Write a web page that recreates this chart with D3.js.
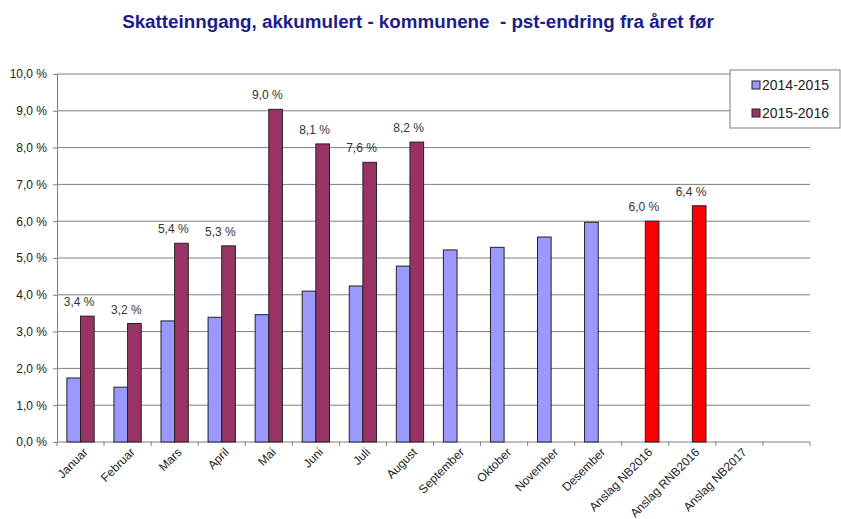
<!DOCTYPE html>
<html>
<head>
<meta charset="utf-8">
<script src="https://cdnjs.cloudflare.com/ajax/libs/d3/7.8.5/d3.min.js"></script>
<style>
	body { margin: 0; background: #fff; }
	svg { font-family: "Liberation Sans", Arial, sans-serif; }
</style>
</head>
<body>
<div id="chart"></div>
<script>
const categories = ["Januar", "Februar", "Mars", "April", "Mai", "Juni", "Juli", "August",
	"September", "Oktober", "November", "Desember", "Anslag NB2016", "Anslag RNB2016", "Anslag NB2017", ""];
const series1 = [1.74, 1.49, 3.29, 3.39, 3.46, 4.10, 4.24, 4.78, 5.22, 5.29, 5.57, 5.97, null, null, null, null];
const series2 = [3.42, 3.22, 5.40, 5.33, 9.04, 8.10, 7.60, 8.15, null, null, null, null, 6.0, 6.42, null, null];
const labels2 = ["3,4 %", "3,2 %", "5,4 %", "5,3 %", "9,0 %", "8,1 %", "7,6 %", "8,2 %",
	null, null, null, null, "6,0 %", "6,4 %", null, null];
const seriesNames = ["2014-2015", "2015-2016"];
const yTicks = [0, 1, 2, 3, 4, 5, 6, 7, 8, 9, 10];

const width = 841, height = 519;
const margin = {top: 74, right: 31, bottom: 77, left: 57};

const svg = d3.select("#chart").append("svg")
	.attr("width", width)
	.attr("height", height);

const x = d3.scaleBand()
	.domain(d3.range(categories.length))
	.range([margin.left, width - margin.right]);

const y = d3.scaleLinear()
	.domain([0, 10])
	.range([height - margin.bottom, margin.top]);

const colors = ["#9999ff", "#993366"];

// gridlines
svg.append("g")
	.selectAll("line")
	.data(yTicks.slice(1))
	.enter().append("line")
	.attr("x1", margin.left)
	.attr("x2", width - margin.right)
	.attr("y1", d => y(d))
	.attr("y2", d => y(d))
	.attr("stroke", "#7f7f7f")
	.attr("stroke-width", 1);

// y axis
const yAxis = d3.axisLeft(y)
	.tickValues(yTicks)
	.tickSize(4)
	.tickFormat(d => d3.format(".1f")(d).replace(".", ",") + " %");

svg.append("g")
	.attr("transform", `translate(${margin.left},0)`)
	.call(yAxis)
	.call(g => g.select(".domain").attr("stroke", "#7f7f7f"))
	.call(g => g.selectAll(".tick line").attr("stroke", "#7f7f7f"))
	.call(g => g.selectAll(".tick text")
		.attr("x", -10)
		.attr("fill", "#222")
		.style("font-size", "12px"));

// x axis with ticks on band boundaries
const xAxisY = y(0);
svg.append("line")
	.attr("x1", margin.left)
	.attr("x2", width - margin.right)
	.attr("y1", xAxisY)
	.attr("y2", xAxisY)
	.attr("stroke", "#7f7f7f");

svg.append("g")
	.selectAll("line")
	.data(d3.range(categories.length + 1))
	.enter().append("line")
	.attr("x1", i => margin.left + i * x.bandwidth())
	.attr("x2", i => margin.left + i * x.bandwidth())
	.attr("y1", xAxisY)
	.attr("y2", xAxisY + 4)
	.attr("stroke", "#7f7f7f");

svg.append("g")
	.selectAll("text")
	.data(categories)
	.enter().append("text")
	.attr("transform", (d, i) => `translate(${x(i) + x.bandwidth() / 2 + 2},${xAxisY + 5}) rotate(-45)`)
	.attr("text-anchor", "end")
	.attr("dy", "0.7em")
	.attr("fill", "#222")
	.style("font-size", "12px")
	.text(d => d);

// bars
const barW = x.bandwidth() * 0.29;
const groupOffset = (x.bandwidth() - 2 * barW) / 2;

const bars1 = series1.map((v, i) => ({i, v})).filter(d => d.v !== null);
const bars2 = series2.map((v, i) => ({i, v, label: labels2[i]})).filter(d => d.v !== null);

svg.append("g")
	.selectAll("rect")
	.data(bars1)
	.enter().append("rect")
	.attr("x", d => x(d.i) + groupOffset)
	.attr("y", d => y(d.v))
	.attr("width", barW)
	.attr("height", d => y(0) - y(d.v))
	.attr("fill", colors[0])
	.attr("stroke", "#222")
	.attr("stroke-width", 1);

svg.append("g")
	.selectAll("rect")
	.data(bars2)
	.enter().append("rect")
	.attr("x", d => x(d.i) + groupOffset + barW)
	.attr("y", d => y(d.v))
	.attr("width", barW)
	.attr("height", d => y(0) - y(d.v))
	.attr("fill", d => d.i >= 12 ? "#ff0000" : colors[1])
	.attr("stroke", "#222")
	.attr("stroke-width", 1);

// value labels
svg.append("g")
	.selectAll("text")
	.data(bars2)
	.enter().append("text")
	.attr("x", d => x(d.i) + groupOffset + barW * 0.9)
	.attr("y", d => y(d.v) - 10)
	.attr("text-anchor", "middle")
	.attr("fill", "#333")
	.style("font-size", "12px")
	.text(d => d.label);

// title
svg.append("text")
	.attr("x", 418)
	.attr("y", 28)
	.attr("text-anchor", "middle")
	.attr("fill", "#1c1c8a")
	.style("font-size", "18.8px")
	.style("font-weight", "bold")
	.attr("xml:space", "preserve")
	.text("Skatteinngang, akkumulert - kommunene  - pst-endring fra året før");

// legend
const legend = svg.append("g").attr("transform", "translate(730,70)");
legend.append("rect")
	.attr("width", 110)
	.attr("height", 58)
	.attr("fill", "#fff")
	.attr("stroke", "#7f7f7f");

seriesNames.forEach((name, i) => {
	const row = legend.append("g").attr("transform", `translate(22,${15 + i * 28})`);
	row.append("rect")
		.attr("x", 0)
		.attr("y", -4)
		.attr("width", 8)
		.attr("height", 8)
		.attr("fill", colors[i])
		.attr("stroke", "#222");
	row.append("text")
		.attr("x", 10)
		.attr("dy", "0.35em")
		.attr("fill", "#222")
		.style("font-size", "14px")
		.text(name);
});
</script>
</body>
</html>
